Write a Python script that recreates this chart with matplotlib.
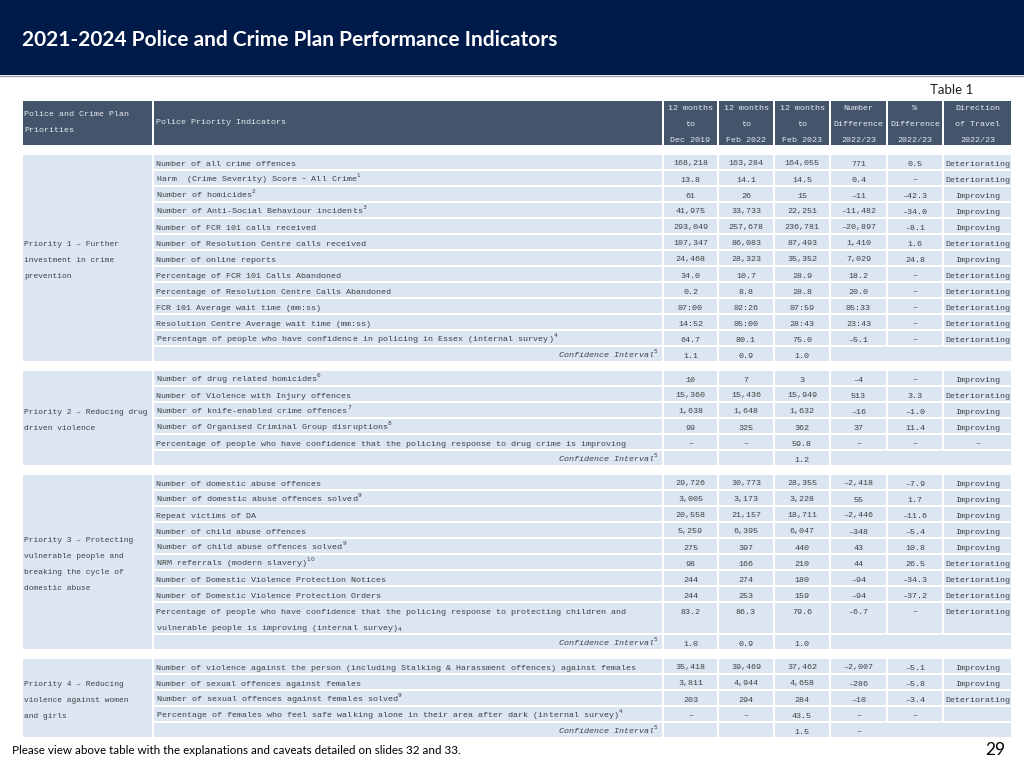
import matplotlib
matplotlib.use("Agg")
import matplotlib.pyplot as plt
from matplotlib.patches import Rectangle

plt.rcParams['font.family'] = ['Liberation Mono', 'DejaVu Sans']

# ---------------- data ----------------
title = "2021-2024 Police and Crime Plan Performance Indicators"
table_no = "Table 1"
footer = "Please view above table with the explanations and caveats detailed on slides 32 and 33."
page_no = "29"

head_priority = ["Police and Crime Plan", "Priorities"]
head_indicator = "Police Priority Indicators"
col_headers = ["12 months\nto\nDec 2019", "12 months\nto\nFeb 2022", "12 months\nto\nFeb 2023",
               "Number\nDifference\n2022/23", "%\nDifference\n2022/23", "Direction\nof Travel\n2022/23"]

# Priority 1
p1_label = ["Priority 1 – Further", "investment in crime", "prevention"]
p1_rows = ["Number of all crime offences",
           r"Harm  (Crime Severity) Score – All Crime$^{1}$",
           r"Number of homicides$^{2}$",
           r"Number of Anti-Social Behaviour incidents$^{3}$",
           "Number of FCR 101 calls received",
           "Number of Resolution Centre calls received",
           "Number of online reports",
           "Percentage of FCR 101 Calls Abandoned",
           "Percentage of Resolution Centre Calls Abandoned",
           "FCR 101 Average wait time (mm:ss)",
           "Resolution Centre Average wait time (mm:ss)",
           r"Percentage of people who have confidence in policing in Essex (internal survey)$^{4}$"]
p1_dec19 = ["168,218", "13.8", "61", "41,975", "293,049", "107,347", "24,468", "34.0", "0.2", "07:00", "14:52", "64.7"]
p1_feb22 = ["163,284", "14.1", "26", "33,733", "257,678", "86,083", "28,323", "10.7", "8.8", "02:26", "05:00", "80.1"]
p1_feb23 = ["164,055", "14.5", "15", "22,251", "236,781", "87,493", "35,352", "28.9", "28.8", "07:59", "28:43", "75.0"]
p1_numdiff = ["771", "0.4", "–11", "–11,482", "–20,897", "1,410", "7,029", "18.2", "20.0", "05:33", "23:43", "–5.1"]
p1_pctdiff = ["0.5", "–", "–42.3", "–34.0", "–8.1", "1.6", "24.8", "–", "–", "–", "–", "–"]
p1_dir = ["Deteriorating", "Deteriorating", "Improving", "Improving", "Improving", "Deteriorating",
          "Improving", "Deteriorating", "Deteriorating", "Deteriorating", "Deteriorating", "Deteriorating"]
p1_ci = ["1.1", "0.9", "1.0", ""]

# Priority 2
p2_label = ["Priority 2 – Reducing drug", "driven violence"]
p2_rows = [r"Number of drug related homicides$^{6}$",
           "Number of Violence with Injury offences",
           r"Number of knife-enabled crime offences$^{7}$",
           r"Number of Organised Criminal Group disruptions$^{8}$",
           "Percentage of people who have confidence that the policing response to drug crime is improving"]
p2_dec19 = ["10", "15,360", "1,638", "99", "–"]
p2_feb22 = ["7", "15,436", "1,648", "325", "–"]
p2_feb23 = ["3", "15,949", "1,632", "362", "59.8"]
p2_numdiff = ["–4", "513", "–16", "37", "–"]
p2_pctdiff = ["–", "3.3", "–1.0", "11.4", "–"]
p2_dir = ["Improving", "Deteriorating", "Improving", "Improving", "–"]
p2_ci = ["", "", "1.2", ""]

# Priority 3
p3_label = ["Priority 3 – Protecting", "vulnerable people and", "breaking the cycle of", "domestic abuse"]
p3_rows = ["Number of domestic abuse offences",
           r"Number of domestic abuse offences solved$^{9}$",
           "Repeat victims of DA",
           "Number of child abuse offences",
           r"Number of child abuse offences solved$^{9}$",
           r"NRM referrals (modern slavery)$^{10}$",
           "Number of Domestic Violence Protection Notices",
           "Number of Domestic Violence Protection Orders",
           "Percentage of people who have confidence that the policing response to protecting children and\n"
           r"vulnerable people is improving (internal survey)$_{4}$"]
p3_dec19 = ["29,726", "3,005", "20,558", "5,259", "275", "98", "244", "244", "83.2"]
p3_feb22 = ["30,773", "3,173", "21,157", "6,395", "397", "166", "274", "253", "86.3"]
p3_feb23 = ["28,355", "3,228", "18,711", "6,047", "440", "210", "180", "159", "79.6"]
p3_numdiff = ["–2,418", "55", "–2,446", "–348", "43", "44", "–94", "–94", "–6.7"]
p3_pctdiff = ["–7.9", "1.7", "–11.6", "–5.4", "10.8", "26.5", "–34.3", "–37.2", "–"]
p3_dir = ["Improving", "Improving", "Improving", "Improving", "Improving",
          "Deteriorating", "Deteriorating", "Deteriorating", "Deteriorating"]
p3_ci = ["1.0", "0.9", "1.0", ""]

# Priority 4
p4_label = ["Priority 4 – Reducing", "violence against women", "and girls"]
p4_rows = ["Number of violence against the person (including Stalking & Harassment offences) against females",
           "Number of sexual offences against females",
           r"Number of sexual offences against females solved$^{9}$",
           r"Percentage of females who feel safe walking alone in their area after dark (internal survey)$^{4}$"]
p4_dec19 = ["35,418", "3,811", "203", "–"]
p4_feb22 = ["39,469", "4,944", "294", "–"]
p4_feb23 = ["37,462", "4,658", "284", "43.5"]
p4_numdiff = ["–2,007", "–286", "–10", "–"]
p4_pctdiff = ["–5.1", "–5.8", "–3.4", "–"]
p4_dir = ["Improving", "Improving", "Deteriorating", ""]
p4_ci = ["", "", "1.5", "–"]

blocks = [
    dict(label=p1_label, rows=p1_rows, cols=[p1_dec19, p1_feb22, p1_feb23, p1_numdiff, p1_pctdiff, p1_dir], ci=p1_ci),
    dict(label=p2_label, rows=p2_rows, cols=[p2_dec19, p2_feb22, p2_feb23, p2_numdiff, p2_pctdiff, p2_dir], ci=p2_ci),
    dict(label=p3_label, rows=p3_rows, cols=[p3_dec19, p3_feb22, p3_feb23, p3_numdiff, p3_pctdiff, p3_dir], ci=p3_ci),
    dict(label=p4_label, rows=p4_rows, cols=[p4_dec19, p4_feb22, p4_feb23, p4_numdiff, p4_pctdiff, p4_dir], ci=p4_ci),
]

# ---------------- layout / style ----------------
NAVY = '#001a4a'
HEAD = '#44546a'
CELL = '#dbe6f2'
TXT = '#404040'
XS = [22, 153, 663, 718, 774, 830, 887, 943, 1012]
ROW_H = 16
GAP = 8
FS = 6.0

fig = plt.figure(figsize=(10.24, 7.68), dpi=100)
ax = fig.add_axes([0, 0, 1, 1])
ax.set_xlim(0, 1024)
ax.set_ylim(768, 0)
ax.axis('off')


def cell(x0, x1, y0, y1, color=CELL):
    ax.add_patch(Rectangle((x0 + 0.8, y0 + 0.6), x1 - x0 - 1.6, y1 - y0 - 1.2, fc=color, ec='none'))


# title band
ax.add_patch(Rectangle((0, 0), 1024, 75, fc=NAVY, ec='none'))
ax.plot([0, 1024], [76, 76], color='#9aa0aa', lw=1)
ax.text(22, 40, title, color='white', fontsize=15, fontweight='bold', family='Lato', va='center')
ax.text(973, 90, table_no, color='#202020', fontsize=9.5, family='Lato', ha='right', va='center')

# header row
h0, h1 = 100, 146
cell(XS[0], XS[1], h0, h1, HEAD)
cell(XS[1], XS[2], h0, h1, HEAD)
for j in range(6):
    cell(XS[2 + j], XS[3 + j], h0, h1, HEAD)
hc = '#e6ebf2'
ax.text(XS[0] + 2, 115, head_priority[0], color=hc, fontsize=FS, va='center')
ax.text(XS[0] + 2, 130, head_priority[1], color=hc, fontsize=FS, va='center')
ax.text(XS[1] + 3, 122, head_indicator, color=hc, fontsize=FS, va='center')
for j, hdr in enumerate(col_headers):
    for k, line in enumerate(hdr.split("\n")):
        ax.text((XS[2 + j] + XS[3 + j]) / 2, 108 + 16 * k, line, color=hc, fontsize=FS,
                ha='center', va='center')

# body
top = 154
for blk in blocks:
    units = [len(r.split("\n")) for r in blk['rows']]
    n_units = sum(units) + 1
    bottom = top + n_units * ROW_H
    cell(XS[0], XS[1], top, bottom)
    mid = (top + bottom) / 2
    nl = len(blk['label'])
    for k, line in enumerate(blk['label']):
        ax.text(XS[0] + 2, mid + (k - (nl - 1) / 2) * ROW_H + 3.5, line, color=TXT, fontsize=5.7, va='baseline')
    y = top
    for i, name in enumerate(blk['rows']):
        h = units[i] * ROW_H
        cell(XS[1], XS[2], y, y + h)
        for k, line in enumerate(name.split("\n")):
            ax.text(XS[1] + 3, y + 11.5 + k * ROW_H, line, color=TXT, fontsize=FS, va='baseline')
        for j, col in enumerate(blk['cols']):
            cell(XS[2 + j], XS[3 + j], y, y + h)
            ax.text((XS[2 + j] + XS[3 + j]) / 2, y + 11.5, col[i], color=TXT, fontsize=FS,
                    ha='center', va='baseline')
        y += h
    # confidence interval row
    cell(XS[1], XS[2], y, y + ROW_H)
    ax.text(XS[2] - 4, y + 11.5, r"Confidence Interval$^{5}$", color=TXT, fontsize=FS,
            style='italic', ha='right', va='baseline')
    for j in range(3):
        cell(XS[2 + j], XS[3 + j], y, y + ROW_H)
        ax.text((XS[2 + j] + XS[3 + j]) / 2, y + 11.5, blk['ci'][j], color=TXT, fontsize=FS,
                ha='center', va='baseline')
    cell(XS[5], XS[8], y, y + ROW_H)
    ax.text((XS[5] + XS[6]) / 2, y + 11.5, blk['ci'][3], color=TXT, fontsize=FS, ha='center', va='baseline')
    top = bottom + GAP

# footer
ax.text(12, 750, footer, color='black', fontsize=8.4, family='Lato', va='center')
ax.text(1005, 750, page_no, color='black', fontsize=12.5, family='Lato', ha='right', va='center')

fig.savefig('out.png', dpi=100)
